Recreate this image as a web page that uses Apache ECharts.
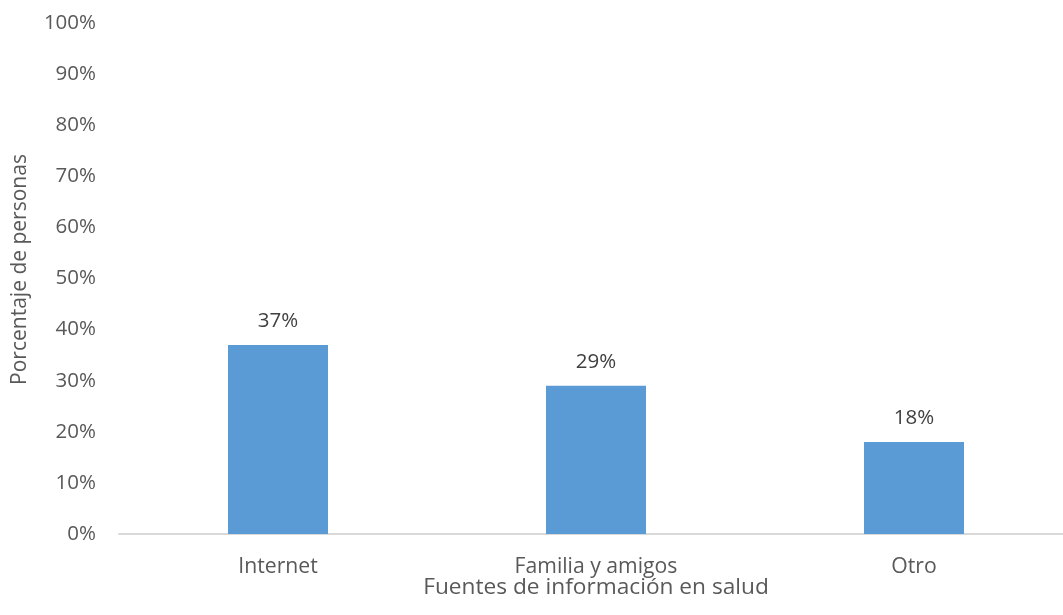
<!DOCTYPE html>
<html>
<head>
<meta charset="utf-8">
<script src="https://cdn.jsdelivr.net/npm/echarts@6/dist/echarts.min.js"></script>
<style>
  html, body { margin: 0; padding: 0; background: #ffffff; overflow: hidden; }
  /* the plot area runs a little past the right edge of the page */
  #chart { width: 1073px; height: 615px; }
</style>
</head>
<body>
<div id="chart"></div>
<script>
// Fuentes de información en salud (% de personas)
const categories = ['Internet', 'Familia y amigos', 'Otro'];
const percentages = [37, 29, 18];
const yTicks = { min: 0, max: 100, step: 10 };

const FONT = '"Open Sans", "Noto Sans", sans-serif';

const chart = echarts.init(document.getElementById('chart'), null, { renderer: 'canvas' });

chart.setOption({
  backgroundColor: '#ffffff',
  animation: false,
  grid: { left: 119, right: 0, top: 23, bottom: 81, containLabel: false },
  xAxis: {
    type: 'category',
    data: categories,
    name: 'Fuentes de información en salud',
    nameLocation: 'middle',
    nameGap: 42,
    nameMoveOverlap: false,
    nameTextStyle: { fontFamily: FONT, fontSize: 22.7, color: '#595959' },
    axisLine: { show: true, lineStyle: { color: '#D9D9D9', width: 2 } },
    axisTick: { show: false },
    axisLabel: { fontFamily: FONT, fontSize: 21.2, color: '#595959', margin: 22 }
  },
  yAxis: {
    type: 'value',
    min: yTicks.min,
    max: yTicks.max,
    interval: yTicks.step,
    name: 'Porcentaje de personas',
    nameLocation: 'middle',
    nameGap: 88,
    nameRotate: 90,
    nameMoveOverlap: false,
    nameTextStyle: { fontFamily: FONT, fontSize: 21, color: '#595959', padding: [0, 0, 0, 18] },
    axisLine: { show: false },
    axisTick: { show: false },
    splitLine: { show: false },
    axisLabel: {
      fontFamily: FONT, fontSize: 20.5, color: '#595959', margin: 23,
      formatter: '{value}%'
    }
  },
  series: [{
    type: 'bar',
    data: percentages,
    barWidth: 100,
    itemStyle: { color: '#5B9BD5' },
    label: {
      show: true,
      position: 'top',
      distance: 13,
      fontFamily: FONT,
      fontSize: 20.5,
      color: '#404040',
      formatter: p => p.value + '%'
    }
  }]
});
</script>
</body>
</html>
